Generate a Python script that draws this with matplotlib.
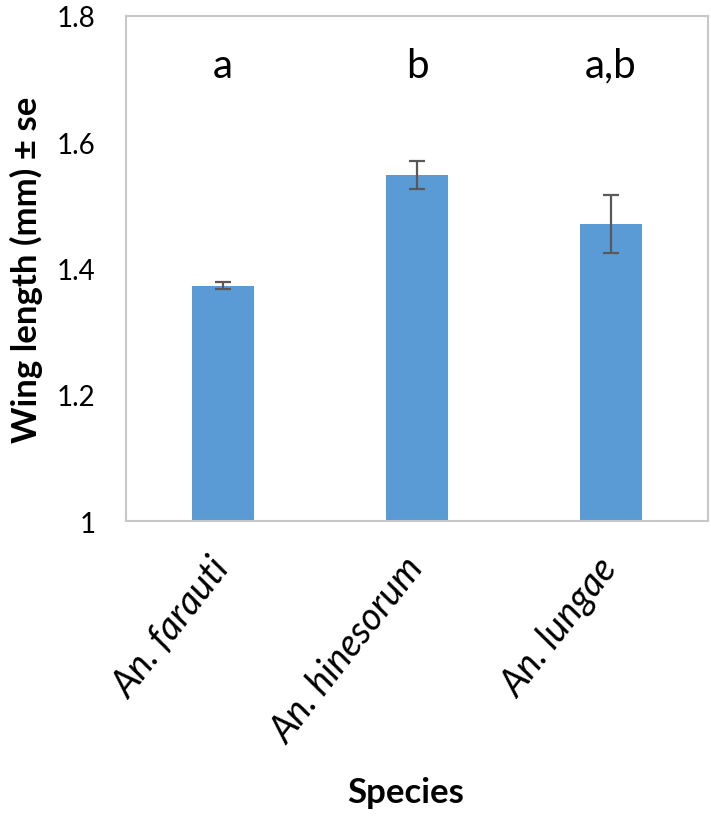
import matplotlib.pyplot as plt
import matplotlib.transforms as mtransforms

species = ["An. farauti", "An. hinesorum", "An. lungae"]
wing_length = [1.373, 1.548, 1.471]
wing_se = [0.006, 0.022, 0.046]
groups = ["a", "b", "a,b"]
yticks = [1, 1.2, 1.4, 1.6, 1.8]
ytick_labels = ["1", "1.2", "1.4", "1.6", "1.8"]

plt.rcParams['font.family'] = ['Lato', 'DejaVu Sans']

fig = plt.figure(figsize=(7.11, 8.2), dpi=100)
ax = fig.add_axes([0.1772, 0.3634, 0.8186, 0.6159])

x = list(range(len(species)))
ax.bar(x, wing_length, width=0.315, color='#5B9BD5', zorder=2)
ax.errorbar(x, wing_length, yerr=wing_se, fmt='none', ecolor='#595959',
            elinewidth=1.6, capsize=5.8, capthick=1.6, zorder=3)

# significance letters above the bars
for xi, g in zip(x, groups):
    ax.text(xi, 1.722, g, ha='center', va='center', fontsize=29)

ax.set_xlim(-0.5, 2.5)
ax.set_ylim(1, 1.8)
ax.set_yticks(yticks)
ax.set_yticklabels(ytick_labels, fontsize=20)
ax.tick_params(axis='y', length=0, pad=22)
ax.tick_params(axis='x', length=0)

ax.set_xticks(x)
ax.set_xticklabels(species, fontsize=27, style='italic', rotation=52,
                   ha='right', va='top', rotation_mode='anchor')
offset = mtransforms.ScaledTranslation(-0.15, -0.25, fig.dpi_scale_trans)
for lab in ax.get_xticklabels():
    lab.set_transform(lab.get_transform() + offset)

for side in ['top', 'right', 'left', 'bottom']:
    ax.spines[side].set_color('#C8C8C8')
    ax.spines[side].set_linewidth(1.5)

ax.set_ylabel("Wing length (mm) ± se", fontsize=25, fontweight='bold', labelpad=10)
fig.text(406 / 711, 1 - 793 / 820, "Species", fontsize=25, fontweight='bold',
         ha='center', va='center')

fig.savefig("out.png", dpi=100)
